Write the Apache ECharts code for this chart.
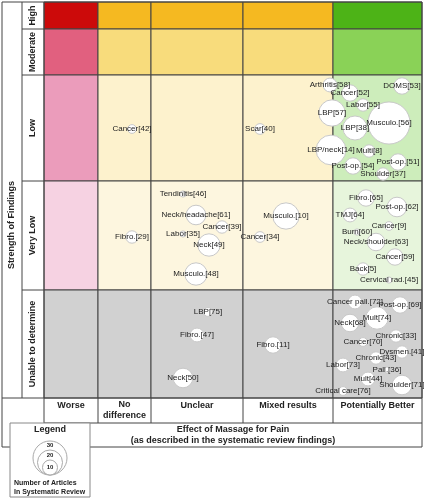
<!DOCTYPE html>
<html>
<head>
<meta charset="utf-8">
<script src="https://cdn.jsdelivr.net/npm/echarts@6/dist/echarts.min.js"></script>
<style>
  html, body { margin: 0; padding: 0; background: #fff; }
  #chart { width: 424px; height: 500px; }
</style>
</head>
<body>
<div id="chart"></div>
<script>
// map units: the grid is laid out so that one unit equals one pixel
const colEdges = [44, 98, 151, 243, 333, 422];
const rowEdges = [2, 29, 75, 181, 290, 398];
const colNames = ['Worse', 'No\ndifference', 'Unclear', 'Mixed results', 'Potentially Better'];
const rowNames = ['High', 'Moderate', 'Low', 'Very Low', 'Unable to determine'];

// cell colours, row by row (High .. Unable), column by column (Worse .. Better)
const cellColors = [
  ['#cc0a0a', '#f5b921', '#f5b921', '#f5b921', '#4db317'],
  ['#e1607f', '#f8dc7c', '#f8dc7c', '#f8dc7c', '#8ad257'],
  ['#eb9cbb', '#fdf2cd', '#fdf2cd', '#fdf2cd', '#cdedbb'],
  ['#f6d2e2', '#fdf6df', '#fdf6df', '#fdf6df', '#e7f5dc'],
  ['#d1d1d1', '#d1d1d1', '#d1d1d1', '#d1d1d1', '#d1d1d1']
];

// reviews: label, x, y, number of articles
const reviewLabels = [
  'Arthritis[58]', 'Cancer[52]', 'DOMS[53]', 'Labor[55]', 'LBP[57]', 'Musculo.[56]', 'LBP[38]',
  'Cancer[42]', 'Scar[40]', 'LBP/neck[14]', 'Multi[8]', 'Post-op.[54]', 'Post-op.[51]', 'Shoulder[37]',
  'Tendinitis[46]', 'Neck/headache[61]', 'Cancer[39]', 'Labor[35]', 'Neck[49]', 'Musculo.[48]',
  'Fibro.[29]', 'Musculo.[10]', 'Cancer[34]', 'Fibro.[65]', 'Post-op.[62]', 'TMJ[64]', 'Cancer[9]',
  'Burn[60]', 'Neck/shoulder[63]', 'Cancer[59]', 'Back[5]', 'Cervical rad.[45]',
  'Cancer pall.[72]', 'Post-op.[69]', 'Mult[74]', 'Neck[68]', 'Chronic[33]', 'Cancer[70]',
  'Dysmen.[41]', 'Chronic[43]', 'Labor[73]', 'Pall.[36]', 'Mult[44]', 'Shoulder[71]',
  'Critical care[76]', 'LBP[75]', 'Fibro.[47]', 'Neck[50]', 'Fibro.[11]'
];
const reviewX = [
  330, 350, 402, 363, 332, 389, 355,
  132, 260, 331, 369, 353, 398, 383,
  183, 196, 222, 183, 209, 196,
  132, 286, 260, 366, 397, 350, 389,
  357, 376, 395, 363, 389,
  355, 400, 377, 350, 396, 363,
  402, 376, 343, 387, 368, 402,
  343, 208, 197, 183, 273
];
const reviewY = [
  85, 93, 86, 105, 113, 123, 128,
  129, 129, 150, 151, 166, 162, 174,
  194, 215, 227, 234, 245, 274,
  237, 216, 237, 198, 207, 215, 226,
  232, 242, 257, 269, 280,
  302, 305, 318, 323, 336, 342,
  352, 358, 365, 370, 379, 385,
  391, 312, 335, 378, 345
];
const reviewArticles = [
  5, 7, 7, 4, 18, 46, 15,
  2, 3, 23, 4, 7, 7, 4,
  1, 10, 4, 1, 13, 13,
  4, 18, 3, 7, 10, 5, 2,
  1, 8, 7, 4, 1,
  5, 7, 13, 8, 4, 2,
  4, 4, 5, 1, 5, 10,
  2, 2, 5, 10, 7
];

const cells = [];
rowNames.forEach((r, ri) => {
  colNames.forEach((c, ci) => {
    cells.push([colEdges[ci], colEdges[ci + 1], rowEdges[ri], rowEdges[ri + 1], cellColors[ri][ci]]);
  });
});

const bubbles = reviewLabels.map((name, i) => ({
  name: name,
  value: [reviewX[i], reviewY[i], reviewArticles[i]]
}));

const FONT = 'Liberation Sans, Arial, sans-serif';
const chart = echarts.init(document.getElementById('chart'));

const graphics = [];
function line(x1, y1, x2, y2) {
  graphics.push({ type: 'line', shape: { x1, y1, x2, y2 }, style: { stroke: '#444', lineWidth: 1 }, z: 50 });
}
function text(x, y, t, opts = {}) {
  graphics.push({
    type: 'text', x, y, rotation: opts.rotation || 0, z: 60,
    style: {
      text: t, font: (opts.weight || 'bold') + ' ' + (opts.size || 9) + 'px ' + FONT,
      fill: '#222', align: opts.align || 'center', verticalAlign: 'middle', lineHeight: opts.lh || 11
    }
  });
}

// frame
graphics.push({ type: 'rect', shape: { x: 2, y: 2, width: 420, height: 445 }, style: { fill: 'none', stroke: '#444', lineWidth: 1 }, z: 50 });
line(22, 2, 22, 398);
line(44, 2, 44, 423);
line(2, 398, 422, 398);
line(44, 423, 422, 423);
colEdges.slice(1, -1).forEach(x => line(x, 398, x, 423));
rowEdges.slice(1, -1).forEach(y => line(22, y, 44, y));

text(12, 225, 'Strength of Findings', { rotation: Math.PI / 2 });
rowNames.forEach((r, i) => text(33, (rowEdges[i] + rowEdges[i + 1]) / 2, r, { rotation: Math.PI / 2 }));
colNames.forEach((c, i) => text((colEdges[i] + colEdges[i + 1]) / 2, c.includes('\n') ? 410 : 406, c));
text(233, 435, 'Effect of Massage for Pain\n(as described in the systematic review findings)', { lh: 11 });

// legend box
graphics.push({ type: 'rect', shape: { x: 10, y: 423, width: 80, height: 74 }, style: { fill: '#fff', stroke: '#888', lineWidth: 1 }, z: 70 });
[[458, 17], [462.5, 12.5], [467.5, 7.5]].forEach(([cy, r]) => {
  graphics.push({ type: 'circle', shape: { cx: 50, cy, r }, style: { fill: '#fff', stroke: '#aaa', lineWidth: 1 }, z: 71 });
});
graphics.push({ type: 'text', x: 50, y: 430, z: 72, style: { text: 'Legend', font: 'bold 9px ' + FONT, fill: '#222', align: 'center', verticalAlign: 'middle' } });
[[445, '30'], [455.5, '20'], [467.5, '10']].forEach(([y, t]) => {
  graphics.push({ type: 'text', x: 50, y, z: 72, style: { text: t, font: 'bold 6px ' + FONT, fill: '#222', align: 'center', verticalAlign: 'middle' } });
});
graphics.push({ type: 'text', x: 14, y: 487.5, z: 72, style: { text: 'Number of Articles\nIn Systematic Review', font: 'bold 7px ' + FONT, fill: '#222', align: 'left', verticalAlign: 'middle', lineHeight: 9 } });

chart.setOption({
  animation: false,
  grid: { left: 44, right: 2, top: 2, bottom: 102 },
  xAxis: { type: 'value', min: 44, max: 422, show: false },
  yAxis: { type: 'value', min: 2, max: 398, inverse: true, show: false },
  graphic: graphics,
  series: [
    {
      type: 'custom',
      data: cells,
      z: 1,
      renderItem: (params, api) => {
        const p0 = api.coord([api.value(0), api.value(2)]);
        const p1 = api.coord([api.value(1), api.value(3)]);
        return {
          type: 'rect',
          shape: { x: p0[0], y: p0[1], width: p1[0] - p0[0], height: p1[1] - p0[1] },
          style: { fill: cells[params.dataIndex][4], stroke: '#444', lineWidth: 1 }
        };
      }
    },
    {
      type: 'scatter',
      data: bubbles,
      z: 5,
      symbolSize: v => 2 * 17 * Math.sqrt(v[2] / 30),
      itemStyle: { color: '#fff', borderColor: '#c8c8c8', borderWidth: 1, opacity: 1 },
      label: {
        show: true, position: 'inside', formatter: p => p.name,
        fontFamily: FONT, fontSize: 8, color: '#222'
      }
    }
  ]
});
</script>
</body>
</html>
